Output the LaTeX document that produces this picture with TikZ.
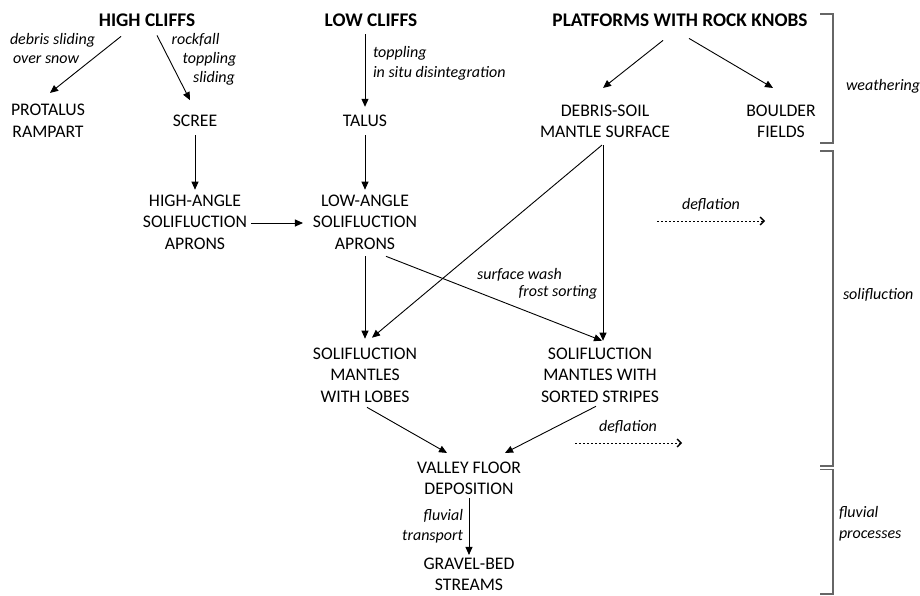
\documentclass[tikz,border=0pt]{standalone}
\usepackage{fontspec}
\setmainfont{Carlito}
\usetikzlibrary{arrows.meta}
\begin{document}
\begin{tikzpicture}[x=1pt,y=-1pt,
  box/.style={inner sep=0pt,outer sep=0pt,align=center,font=\fontsize{17.7}{21.5}\selectfont},
  head/.style={inner sep=0pt,outer sep=0pt,font=\bfseries\fontsize{19.3}{22}\selectfont},
  lbl/.style={inner sep=0pt,outer sep=0pt,font=\itshape\fontsize{16}{19}\selectfont},
  arr/.style={line width=0.9pt,-{Triangle[length=8pt,width=7pt]}},
  dotarr/.style={line width=0.9pt,dash pattern=on 2pt off 2pt,-{Straight Barb[length=4pt,width=8pt,line width=1.3pt]}},
  brk/.style={line width=1.4pt,draw=black!60}]
\useasboundingbox (0,0) rectangle (920,595);

% headings
\node[head] (hc) at (147,20) {HIGH CLIFFS};
\node[head] (lc) at (371,20) {LOW CLIFFS};
\node[head] (pf) at (680,20) {PLATFORMS WITH ROCK KNOBS};

% boxes
\node[box] (pr) at (48,121) {PROTALUS\\RAMPART};
\node[box] (sc) at (195,121) {SCREE};
\node[box] (ta) at (365,121) {TALUS};
\node[box] (ds) at (605,121.5) {DEBRIS-SOIL\\MANTLE SURFACE};
\node[box] (bf) at (781,121.5) {BOULDER\\FIELDS};
\node[box] (ha) at (195,222) {HIGH-ANGLE\\SOLIFLUCTION\\APRONS};
\node[box] (la) at (365,222) {LOW-ANGLE\\SOLIFLUCTION\\APRONS};
\node[box] (lo) at (365,375) {SOLIFLUCTION\\MANTLES\\WITH LOBES};
\node[box] (ss) at (600,375) {SOLIFLUCTION\\MANTLES WITH\\SORTED STRIPES};
\node[box] (vf) at (469,478.5) {VALLEY FLOOR\\DEPOSITION};
\node[box] (gb) at (469,574.5) {GRAVEL-BED\\STREAMS};

% labels
\node[lbl,anchor=mid west] (l1) at (10,42) {debris sliding};
\node[lbl,anchor=mid west] (l2) at (13,61) {over snow};
\node[lbl,anchor=mid] (l3) at (195.5,42) {rockfall};
\node[lbl,anchor=mid] (l4) at (209.5,61) {toppling};
\node[lbl,anchor=mid] (l5) at (214,80) {sliding};
\node[lbl,anchor=mid west] (l6) at (373,55) {toppling};
\node[lbl,anchor=mid west] (l7) at (373,75) {in situ disintegration};
\node[lbl,anchor=mid] (l8) at (519.5,277) {surface wash};
\node[lbl,anchor=mid] (l9) at (558,294) {frost sorting};
\node[lbl,anchor=mid east] (l10) at (463,518) {fluvial};
\node[lbl,anchor=mid east] (l11) at (463,538) {transport};
\node[lbl,anchor=mid] (d1) at (711,207) {deflation};
\node[lbl,anchor=mid] (d2) at (628,429) {deflation};
\node[lbl,anchor=mid west] (w) at (846,88) {weathering};
\node[lbl,anchor=mid west] (s) at (843,297) {solifluction};
\node[lbl,anchor=mid west] (f1) at (839,515) {fluvial};
\node[lbl,anchor=mid west] (f2) at (839,536) {processes};

% arrows
\draw[arr] ([shift={(-26,10)}]hc.south) -- ([shift={(2,-11.6)}]pr.north);
\draw[arr] ([shift={(10,9)}]hc.south) -- ([shift={(-5,-15)}]sc.north);
\draw[arr] ([shift={(-6,8)}]lc.south) -- ([shift={(0,-8.4)}]ta.north);
\draw[arr] ([shift={(-17,14)}]pf.south) -- ([shift={(-2,-17)}]ds.north);
\draw[arr] ([shift={(9,12)}]pf.south) -- ([shift={(-8,-17)}]bf.north);
\draw[arr] ([shift={(0,8.4)}]sc.south) -- ([shift={(0,-5)}]ha.north);
\draw[arr] ([shift={(0,8.4)}]ta.south) -- ([shift={(0,-5)}]la.north);
\draw[arr] ([shift={(4,1)}]ha.east) -- ([shift={(-10,1)}]la.west);
\draw[arr] ([shift={(0,7)}]la.south) -- ([shift={(0,-9)}]lo.north);
\draw[arr] ([shift={(21,7)}]la.south) -- ([shift={(2,-7)}]ss.north);
\draw[arr] ([shift={(-3,7)}]ds.south) -- ([shift={(7,-10)}]lo.north);
\draw[arr] ([shift={(-2,7)}]ds.south) -- ([shift={(3,-7)}]ss.north);
\draw[arr] ([shift={(2,5)}]lo.south) -- ([shift={(-22,-9)}]vf.north);
\draw[arr] ([shift={(-4,4)}]ss.south) -- ([shift={(36,-9)}]vf.north);
\draw[arr] ([shift={(0,3)}]vf.south) -- ([shift={(0,-3)}]gb.north);

% deflation arrows
\coordinate (a1) at (657,221);
\coordinate (b1) at (765,221);
\coordinate (a2) at (575,443);
\coordinate (b2) at (682,443);
\draw[dotarr] (a1) -- (b1);
\draw[dotarr] (a2) -- (b2);

% brackets
\draw[brk] (820,14) -- (833,14) -- (833,143) -- (820,143);
\draw[brk] (820,151) -- (833,151) -- (833,466) -- (820,466);
\draw[brk] (820,469.5) -- (833,469.5) -- (833,594) -- (820,594);
\end{tikzpicture}
\end{document}
